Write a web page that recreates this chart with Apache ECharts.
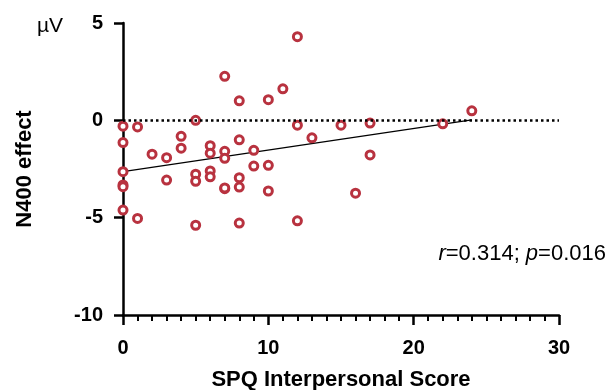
<!DOCTYPE html>
<html>
<head>
<meta charset="utf-8">
<script src="https://cdn.jsdelivr.net/npm/echarts@6/dist/echarts.min.js"></script>
<style>
  html, body { margin: 0; padding: 0; background: #fff; }
  #chart { width: 611px; height: 390px; }
</style>
</head>
<body>
<div id="chart"></div>
<script>
// SPQ interpersonal score (x) vs N400 effect in µV (y), one entry per subject
const spqScore = [12, 7, 11, 8, 10, 5, 0, 1, 12, 15, 4, 0, 8, 13, 4, 6, 6, 7, 7, 9, 2, 3, 9, 10,
  0, 5, 6, 6, 5, 3, 8, 0, 0, 7, 7, 8, 10, 0, 1, 5, 8, 12, 16, 17, 17, 22, 24];
const n400Effect = [4.30, 2.26, 1.62, 1.0, 1.06, 0.0, -0.30, -0.34, -0.25, -0.25, -0.82, -1.14, -1.0, -0.90,
  -1.43, -1.30, -1.69, -1.59, -1.95, -1.54, -1.74, -1.92, -2.35, -2.31, -2.64, -2.77, -2.60, -2.90,
  -3.13, -3.07, -2.95, -3.32, -3.41, -3.51, -3.47, -3.43, -3.63, -4.61, -5.04, -5.39, -5.28, -5.16,
  -3.74, -0.14, -1.78, -0.18, 0.49];

// regression line end points
const fitX = [0, 24];
const fitY = [-2.64, 0.02];

const xTicks = [0, 10, 20, 30];
const yTicks = [-10, -5, 0, 5];
const statsText = ["r", "=0.314; ", "p", "=0.016"];

const font = "Liberation Sans";
const red = "#b8323f";

const chart = echarts.init(document.getElementById("chart"));

const option = {
  animation: false,
  grid: { left: 123, right: 52, top: 23, bottom: 75, containLabel: false, outerBoundsMode: "none" },
  xAxis: {
    type: "value",
    min: xTicks[0],
    max: xTicks[xTicks.length - 1],
    interval: 10,
    name: "SPQ Interpersonal Score",
    nameLocation: "middle",
    nameGap: 54,
    nameTextStyle: { fontFamily: font, fontWeight: "bold", fontSize: 22, color: "#000" },
    axisLine: { show: true, onZero: false, lineStyle: { color: "#000", width: 2.5 } },
    axisTick: { show: true, length: 10, lineStyle: { color: "#000", width: 2.5 } },
    minorTick: { show: true, splitNumber: 10, length: 6, lineStyle: { color: "#000", width: 2 } },
    axisLabel: { fontFamily: font, fontWeight: "bold", fontSize: 20, color: "#000", margin: 23 },
    splitLine: { show: false }
  },
  yAxis: {
    type: "value",
    min: yTicks[0],
    max: yTicks[yTicks.length - 1],
    interval: 5,
    name: "N400 effect",
    nameLocation: "middle",
    nameGap: 87,
    nameRotate: 90,
    nameTextStyle: { fontFamily: font, fontWeight: "bold", fontSize: 22, color: "#000" },
    axisLine: { show: true, onZero: false, lineStyle: { color: "#000", width: 2.5 } },
    axisTick: { show: true, length: 9, lineStyle: { color: "#000", width: 2.5 } },
    axisLabel: { fontFamily: font, fontWeight: "bold", fontSize: 20, color: "#000", margin: 20 },
    splitLine: { show: false }
  },
  graphic: [
    {
      type: "text",
      left: 37,
      top: 16,
      style: { text: "µV", font: "21px Liberation Sans", fill: "#000" }
    },
    {
      type: "text",
      right: 5,
      top: 243,
      style: {
        text: "{i|" + statsText[0] + "}" + statsText[1] + "{i|" + statsText[2] + "}" + statsText[3],
        font: "22px Liberation Sans",
        fill: "#000",
        rich: { i: { fontStyle: "italic", fontFamily: font, fontSize: 22 } }
      }
    }
  ],
  series: [
    {
      type: "line",
      data: fitX.map((x, i) => [x, fitY[i]]),
      symbol: "none",
      lineStyle: { color: "#000", width: 1.3 },
      z: 1,
      markLine: {
        silent: true,
        symbol: "none",
        label: { show: false },
        lineStyle: { color: "#000", type: [2.5, 3], width: 2.5 },
        data: [{ yAxis: 0 }]
      }
    },
    {
      type: "scatter",
      data: spqScore.map((x, i) => [x, n400Effect[i]]),
      symbol: "circle",
      symbolSize: 8,
      itemStyle: { color: "#fff", borderColor: red, borderWidth: 3, opacity: 1 },
      z: 3
    }
  ]
};

chart.setOption(option);
</script>
</body>
</html>
